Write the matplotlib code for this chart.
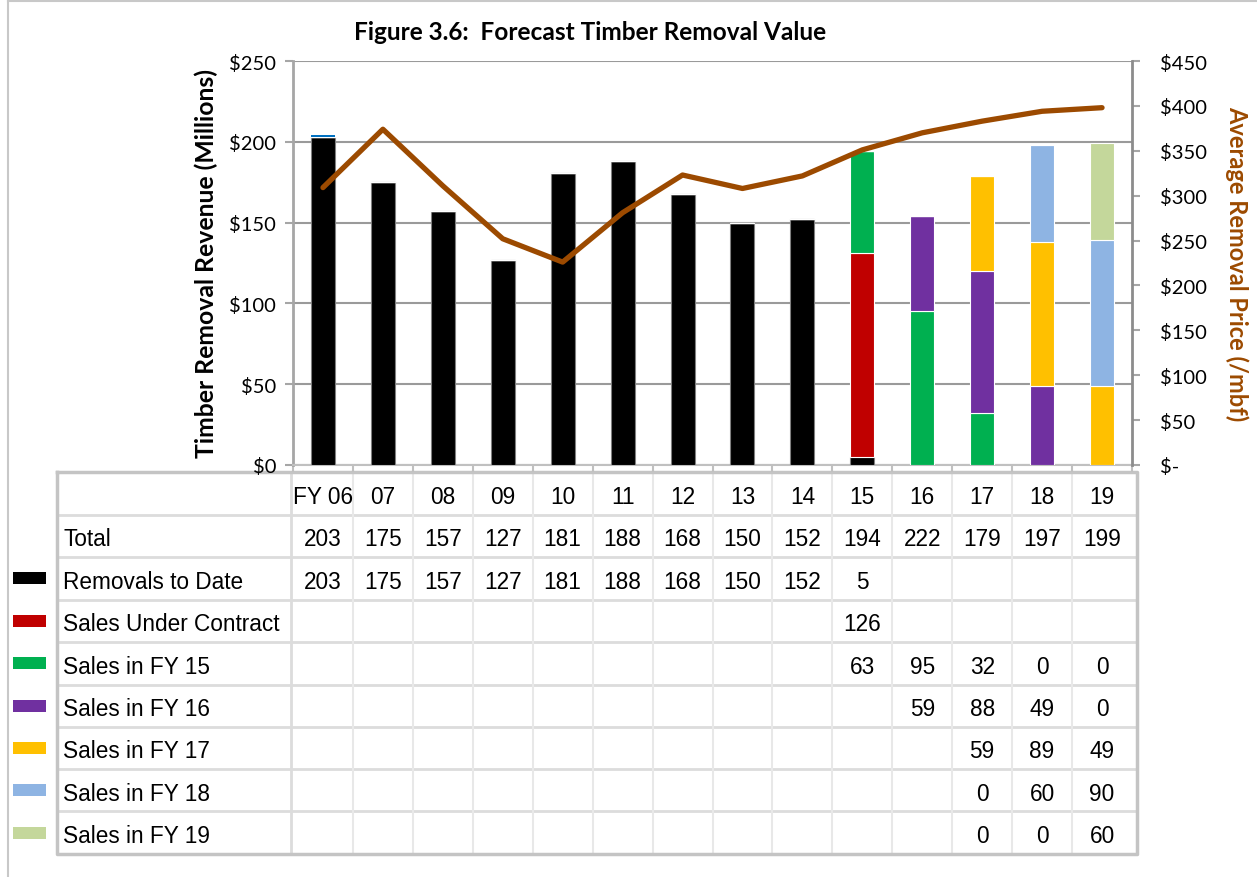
import numpy as np
import matplotlib
matplotlib.use("Agg")
import matplotlib.pyplot as plt
from matplotlib.ticker import FixedLocator, FuncFormatter
from matplotlib.transforms import blended_transform_factory
from matplotlib import font_manager

# ---------------- data ----------------
years = ["FY 06", "07", "08", "09", "10", "11", "12", "13", "14", "15", "16", "17", "18", "19"]
total = [203, 175, 157, 127, 181, 188, 168, 150, 152, 194, 222, 179, 197, 199]
removals_to_date = [203, 175, 157, 127, 181, 188, 168, 150, 152, 5, None, None, None, None]
sales_under_contract = [None] * 9 + [126, None, None, None, None]
sales_fy15 = [None] * 9 + [63, 95, 32, 0, 0]
sales_fy16 = [None] * 10 + [59, 88, 49, 0]
sales_fy17 = [None] * 11 + [59, 89, 49]
sales_fy18 = [None] * 11 + [0, 60, 90]
sales_fy19 = [None] * 11 + [0, 0, 60]
unlabeled_fy06_sliver = [1.5] + [None] * 13
avg_price = [309, 374, 311, 252, 226, 281, 323, 308, 322, 351, 370, 383, 394, 398]

series_names = ["Removals to Date", "Sales Under Contract", "Sales in FY 15", "Sales in FY 16",
                "Sales in FY 17", "Sales in FY 18", "Sales in FY 19"]
series_vals = [removals_to_date, sales_under_contract, sales_fy15, sales_fy16,
               sales_fy17, sales_fy18, sales_fy19]
series_colors = ["#000000", "#C00000", "#00B050", "#7030A0", "#FFC000", "#8EB4E3", "#C4D79B"]

# ---------------- fonts ----------------
avail = {f.name for f in font_manager.fontManager.ttflist}
ui_font = "Lato" if "Lato" in avail else "DejaVu Sans"
tbl_font = "Liberation Sans" if "Liberation Sans" in avail else "DejaVu Sans"

W, H = 1257, 878
fig = plt.figure(figsize=(W / 100, H / 100), dpi=100)
L, R, T, B = 293, 1132, 62, 466
ax = fig.add_axes([L / W, 1 - B / H, (R - L) / W, (B - T) / H])
ax2 = ax.twinx()

x = np.arange(len(years))
bottom = np.zeros(len(years))
for vals, col in zip(series_vals, series_colors):
    v = np.array([0 if a is None else a for a in vals], dtype=float)
    ec = "#808080" if col == "#000000" else "white"
    ax.bar(x, v, width=0.4, bottom=bottom, color=col, edgecolor=ec, linewidth=0.8, zorder=3)
    bottom += v
v = np.array([0 if a is None else a for a in unlabeled_fy06_sliver], dtype=float)
ax.bar(x, v, width=0.4, bottom=bottom, color="#0070C0", linewidth=0, zorder=3)

ax2.plot(x, avg_price, color="#9C4A00", lw=3.8, solid_capstyle="round",
         solid_joinstyle="round", zorder=5)

gray = "#a6a6a6"
ax.set_xlim(-0.5, 13.5)
ax.set_ylim(0, 250)
ax2.set_ylim(0, 450)
ax.set_axisbelow(True)
ax.yaxis.grid(True, color="#9a9a9a", lw=1.5)
ax.yaxis.set_major_locator(FixedLocator([0, 50, 100, 150, 200, 250]))
ax.yaxis.set_major_formatter(FuncFormatter(lambda v, p: f"${int(v)}"))
ax2.yaxis.set_major_locator(FixedLocator(np.arange(0, 451, 50)))
ax2.yaxis.set_major_formatter(FuncFormatter(lambda v, p: "$-" if v == 0 else f"${int(v)}"))
ax.set_xticks(np.arange(-0.5, 14, 1))
ax.set_xticklabels([])
ax.tick_params(axis="x", direction="out", length=5, color="#c0c0c0", width=1.5)
ax.tick_params(axis="y", direction="out", length=6, color=gray, width=1.5,
               labelsize=14.5, pad=6)
ax2.tick_params(axis="y", direction="out", length=6, color=gray, width=1.5,
                labelsize=14.5, pad=14)
for lab in ax.get_yticklabels() + ax2.get_yticklabels():
    lab.set_family(ui_font)

for a in (ax, ax2):
    for s in a.spines.values():
        s.set_visible(False)
ax.spines["left"].set_visible(True)
ax.spines["left"].set_color(gray)
ax.spines["left"].set_linewidth(2)
ax.spines["bottom"].set_visible(True)
ax.spines["bottom"].set_color("#c0c0c0")
ax.spines["bottom"].set_linewidth(1.5)
ax2.spines["right"].set_visible(True)
ax2.spines["right"].set_color("#8c8c8c")
ax2.spines["right"].set_linewidth(2)

ax.set_ylabel("Timber Removal Revenue (Millions)", family=ui_font, fontweight="bold",
              fontsize=17.8, labelpad=8)
ax2.set_ylabel("Average Removal Price (/mbf)", family=ui_font, fontweight="bold",
               fontsize=17.0, color="#9C4A00", rotation=-90, labelpad=30)

fig.text(590 / W, 1 - 32 / H, "Figure 3.6:  Forecast Timber Removal Value", family=ui_font,
         fontweight="bold", fontsize=17.6, ha="center", va="center")

# ---------------- overlay for frame + table grid ----------------
ov = fig.add_axes([0, 0, 1, 1], zorder=-1)
ov.set_xlim(0, W)
ov.set_ylim(H, 0)
ov.axis("off")
ov.plot([8, 8], [2, H], color="#c8c8c8", lw=1.5)
ov.plot([8, W], [2, 2], color="#c8c8c8", lw=1.5)

row_edges = [472.7, 516, 558, 600.7, 642.7, 685.7, 727.7, 770, 812.3, 855]
tl, tr = 57, 1137
slot = (R - L) / 14
for y in row_edges[1:-1]:
    ov.plot([tl, tr], [y, y], color="#dcdcdc", lw=2)
for k in range(1, 14):
    xx = L + k * slot
    ov.plot([xx, xx], [row_edges[0], row_edges[-1]], color="#e8e8e8", lw=1.5)
ov.plot([291, 291], [row_edges[0], row_edges[-1]], color="#dcdcdc", lw=2)
ov.plot([tl, tr, tr, tl, tl], [row_edges[0], row_edges[0], row_edges[-1], row_edges[-1], row_edges[0]],
        color="#c4c4c4", lw=2.5)

# ---------------- table text ----------------
trans = blended_transform_factory(ax.transData, fig.transFigure)
centers = [(row_edges[i] + row_edges[i + 1]) / 2 + 3 for i in range(len(row_edges) - 1)]
fs = 16.3
for i, yl in enumerate(years):
    ax.text(i, 1 - centers[0] / H, yl, transform=trans, ha="center", va="center",
            family=tbl_font, fontsize=fs, clip_on=False)
rows = [("Total", total, None)] + list(zip(series_names, series_vals, series_colors))
for r, (name, vals, col) in enumerate(rows):
    yc = centers[r + 1]
    fig.text(63 / W, 1 - yc / H, name, ha="left", va="center", family=tbl_font, fontsize=fs)
    for i, v in enumerate(vals):
        if v is not None:
            ax.text(i, 1 - yc / H, str(int(v)), transform=trans, ha="center", va="center",
                    family=tbl_font, fontsize=fs, clip_on=False)
    if col is not None:
        ov.add_patch(plt.Rectangle((13, yc - 9), 33, 12, color=col, lw=0))

fig.savefig("out.png", dpi=100)
